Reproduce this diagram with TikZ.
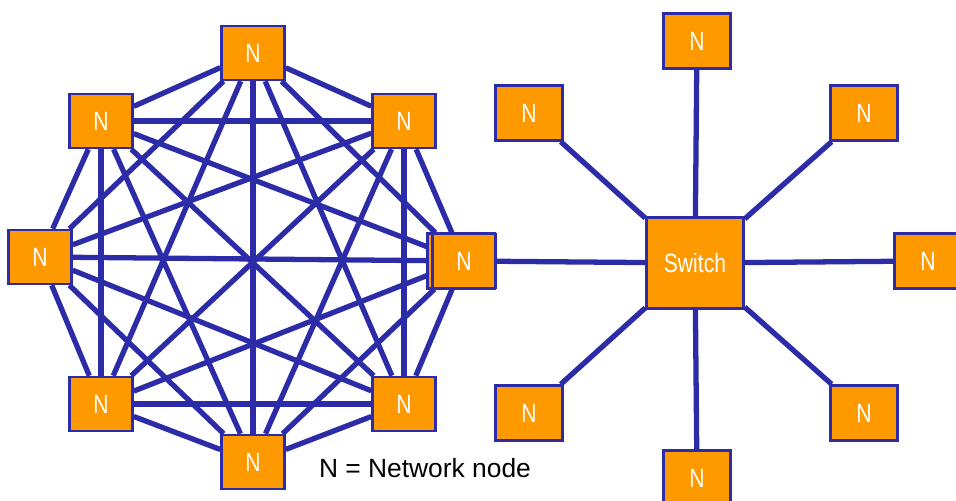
\documentclass[tikz,border=0pt]{standalone}
\usepackage{fontspec}
\setmainfont{Liberation Sans}
\newfontfamily\narrowsans[FakeStretch=0.8]{Liberation Sans}
\usetikzlibrary{backgrounds}
\definecolor{linkblue}{RGB}{44,44,168}
\definecolor{nodeorange}{RGB}{255,153,0}
\begin{document}
\begin{tikzpicture}[x=0.01cm,y=-0.01cm,
                font=\fontsize{7.5}{9}\selectfont,
                box/.style = {draw=linkblue, line width=0.7pt, fill=nodeorange,
                  text=white, font=\narrowsans\fontsize{7.5}{9}\selectfont,
                  inner sep=0pt, minimum width=0.63cm, minimum height=0.54cm},
                leaf/.style = {box, minimum width=0.67cm, minimum height=0.55cm},
                link/.style = {linkblue, line width=1.5pt}]
            \useasboundingbox (0,0) rectangle (956,501);
            % Mesh nodes
            \node[box] (A) at (253,53) {N};
            \node[box] (B) at (404,121) {N};
            \node[leaf] (W) at (461,261) {N};
            \node[box] (C) at (464,261) {N};
            \node[box] (D) at (404,404) {N};
            \node[box] (E) at (253,462) {N};
            \node[box] (F) at (101,404) {N};
            \node[box] (G) at (40,257) {N};
            \node[box] (H) at (101,121) {N};

            % Star nodes
            \node[box, minimum width=0.97cm, minimum height=0.91cm] (S) at (695,263) {Switch};
            \node[leaf] (SN) at (697,41) {N};
            \node[leaf] (SNE) at (864,113) {N};
            \node[leaf] (SE) at (928,261) {N};
            \node[leaf] (SSE) at (864,413) {N};
            \node[leaf] (SS) at (697,478) {N};
            \node[leaf] (SSW) at (529,413) {N};
            \node[leaf] (SNW) at (529,113) {N};

            \node (key) at (425,468) {N = Network node};

            %Edges
            \begin{pgfonlayer}{background}
            \foreach \a/\rest in {A/{B,C,D,E,F,G,H}, B/{C,D,E,F,G,H}, C/{D,E,F,G,H},
                                  D/{E,F,G,H}, E/{F,G,H}, F/{G,H}, G/{H}}
              \foreach \b in \rest
                \draw[link] (\a) -- (\b);
            \draw[link] (C) -- (S);
            \foreach \b in {SN,SNE,SE,SSE,SS,SSW,SNW}
              \draw[link] (S) -- (\b);
            \end{pgfonlayer}
        \end{tikzpicture}
\end{document}
